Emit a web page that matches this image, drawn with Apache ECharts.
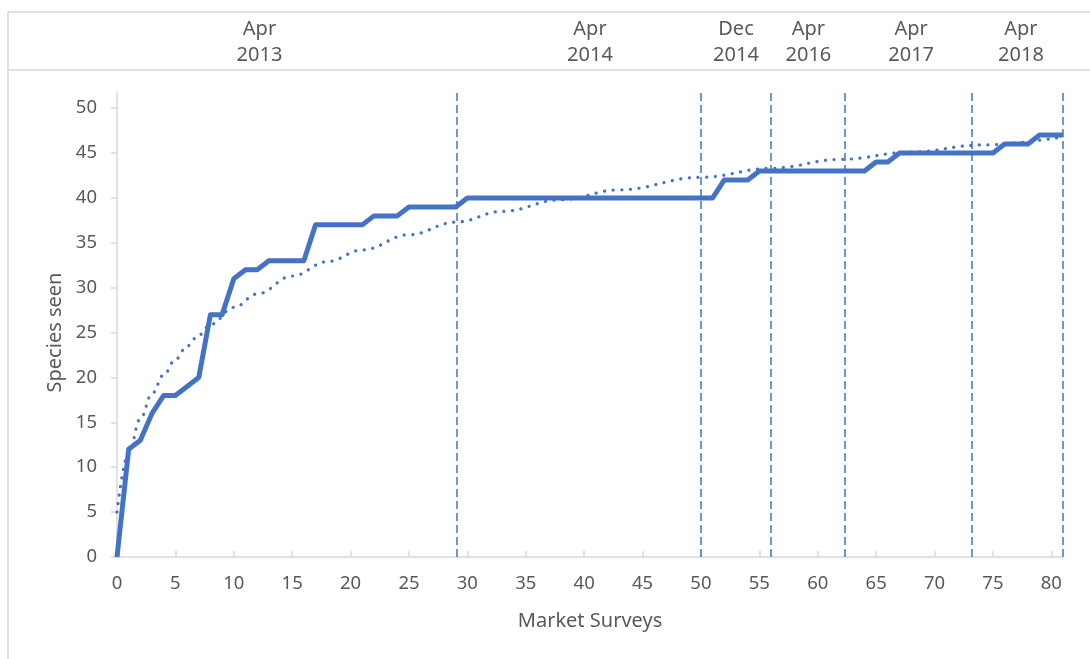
<!DOCTYPE html>
<html>
<head>
<meta charset="utf-8">
<title>Species accumulation curve</title>
<script src="https://cdn.jsdelivr.net/npm/echarts@6/dist/echarts.min.js"></script>
<style>
  html, body { margin: 0; padding: 0; background: #ffffff; }
  #chart { width: 1090px; height: 659px; }
</style>
</head>
<body>
<div id="chart"></div>
<script>
// Cumulative number of species recorded after each market survey (survey 0..81)
const speciesSeen = [
  0, 12, 13, 16, 18, 18, 19, 20, 27, 27,
  31, 32, 32, 33, 33, 33, 33, 37, 37, 37,
  37, 37, 38, 38, 38, 39, 39, 39, 39, 39,
  40, 40, 40, 40, 40, 40, 40, 40, 40, 40,
  40, 40, 40, 40, 40, 40, 40, 40, 40, 40,
  40, 40, 42, 42, 42, 43, 43, 43, 43, 43,
  43, 43, 43, 43, 43, 44, 44, 45, 45, 45,
  45, 45, 45, 45, 45, 45, 46, 46, 46, 47,
  47, 47
];

// Logarithmic trend line, sampled along the survey axis
const trendSurvey = [0, 1, 2, 3, 4, 5, 6, 7, 8, 10, 12, 15, 18, 21, 25, 29, 33, 38, 43, 50, 56, 62, 68, 74, 81];
const trendSpecies = [5.0, 11.6, 15.4, 18.2, 20.3, 22.0, 23.5, 24.7, 25.9, 27.8, 29.3, 31.3, 32.9, 34.2, 35.9, 37.3, 38.5, 39.8, 40.9, 42.3, 43.3, 44.3, 45.1, 45.9, 46.8];

// Survey positions where a new field season starts, and the season labels
const seasonBreaks = [29.05, 49.96, 56.0, 62.3, 73.2, 81.0];
const seasonLabelPos = [12.2, 40.5, 53.0, 59.2, 68.0, 77.4];
const seasonLabels = ['Apr\n2013', 'Apr\n2014', 'Dec\n2014', 'Apr\n2016', 'Apr\n2017', 'Apr\n2018'];

const xTicks = [0, 5, 10, 15, 20, 25, 30, 35, 40, 45, 50, 55, 60, 65, 70, 75, 80];
const yTicks = [0, 5, 10, 15, 20, 25, 30, 35, 40, 45, 50];

const BLUE = '#4472C4';
const TEXT = '#595959';
const RULE = '#d9d9d9';
const FONT = '"Noto Sans", "Open Sans", sans-serif';

const chart = echarts.init(document.getElementById('chart'), null, { renderer: 'canvas' });

const speciesPoints = speciesSeen.map((v, i) => [i, v]);
const trendPoints = trendSurvey.map((s, i) => [s, trendSpecies[i]]);

chart.setOption({
  animation: false,
  backgroundColor: '#ffffff',
  textStyle: { fontFamily: FONT },
  graphic: [
    // frame of the header band and left border
    { type: 'line', shape: { x1: 8, y1: 12, x2: 1090, y2: 12 }, style: { stroke: RULE, lineWidth: 1.5 } },
    { type: 'line', shape: { x1: 8, y1: 70, x2: 1090, y2: 70 }, style: { stroke: RULE, lineWidth: 1.5 } },
    { type: 'line', shape: { x1: 8, y1: 12, x2: 8, y2: 659 }, style: { stroke: RULE, lineWidth: 1.5 } }
  ],
  grid: { left: 117, right: 27, top: 92, bottom: 102 },
  xAxis: [
    {
      type: 'value',
      min: 0,
      max: 81,
      interval: 5,
      name: 'Market Surveys',
      nameLocation: 'middle',
      nameGap: 54,
      nameTextStyle: { color: TEXT, fontSize: 20, fontFamily: FONT },
      axisLine: { show: true, lineStyle: { color: RULE, width: 1.5 } },
      axisTick: { show: true, inside: true, length: 6, customValues: xTicks, lineStyle: { color: RULE, width: 1.5 } },
      axisLabel: { customValues: xTicks, color: TEXT, fontSize: 18.5, margin: 17, fontFamily: FONT },
      splitLine: { show: false }
    },
    {
      type: 'value',
      position: 'top',
      min: 0,
      max: 81,
      axisLine: { show: false },
      axisTick: { show: false },
      splitLine: { show: false },
      axisLabel: {
        customValues: seasonLabelPos,
        formatter: (v) => {
          const k = seasonLabelPos.findIndex(p => Math.abs(p - v) < 1e-6);
          return k >= 0 ? seasonLabels[k] : '';
        },
        color: TEXT,
        fontSize: 20,
        lineHeight: 26,
        margin: 24,
        fontFamily: FONT
      }
    }
  ],
  yAxis: {
    type: 'value',
    min: 0,
    max: 51.8,
    interval: 5,
    name: 'Species seen',
    nameLocation: 'middle',
    nameGap: 50,
    nameTextStyle: { color: TEXT, fontSize: 20, fontFamily: FONT, padding: [0, 16, 0, 0] },
    axisLine: { show: true, lineStyle: { color: RULE, width: 1.5 } },
    axisTick: { show: true, length: 6, customValues: yTicks, lineStyle: { color: RULE, width: 1.5 } },
    axisLabel: { customValues: yTicks, color: TEXT, fontSize: 18.5, margin: 20, fontFamily: FONT },
    splitLine: { show: false }
  },
  series: [
    {
      name: 'Species seen',
      type: 'line',
      data: speciesPoints,
      showSymbol: false,
      symbol: 'none',
      lineStyle: { color: BLUE, width: 5, join: 'round' },
      z: 3,
      markLine: {
        silent: true,
        symbol: 'none',
        label: { show: false },
        lineStyle: { color: BLUE, width: 1.5, type: [8, 4] },
        data: seasonBreaks.map(v => ({ xAxis: v }))
      }
    },
    {
      name: 'Trend',
      type: 'line',
      data: trendPoints,
      smooth: 0.4,
      smoothMonotone: 'x',
      showSymbol: false,
      symbol: 'none',
      lineStyle: { color: BLUE, width: 3.2, type: [0.1, 8.5], cap: 'round' },
      z: 2
    }
  ]
});
</script>
</body>
</html>
